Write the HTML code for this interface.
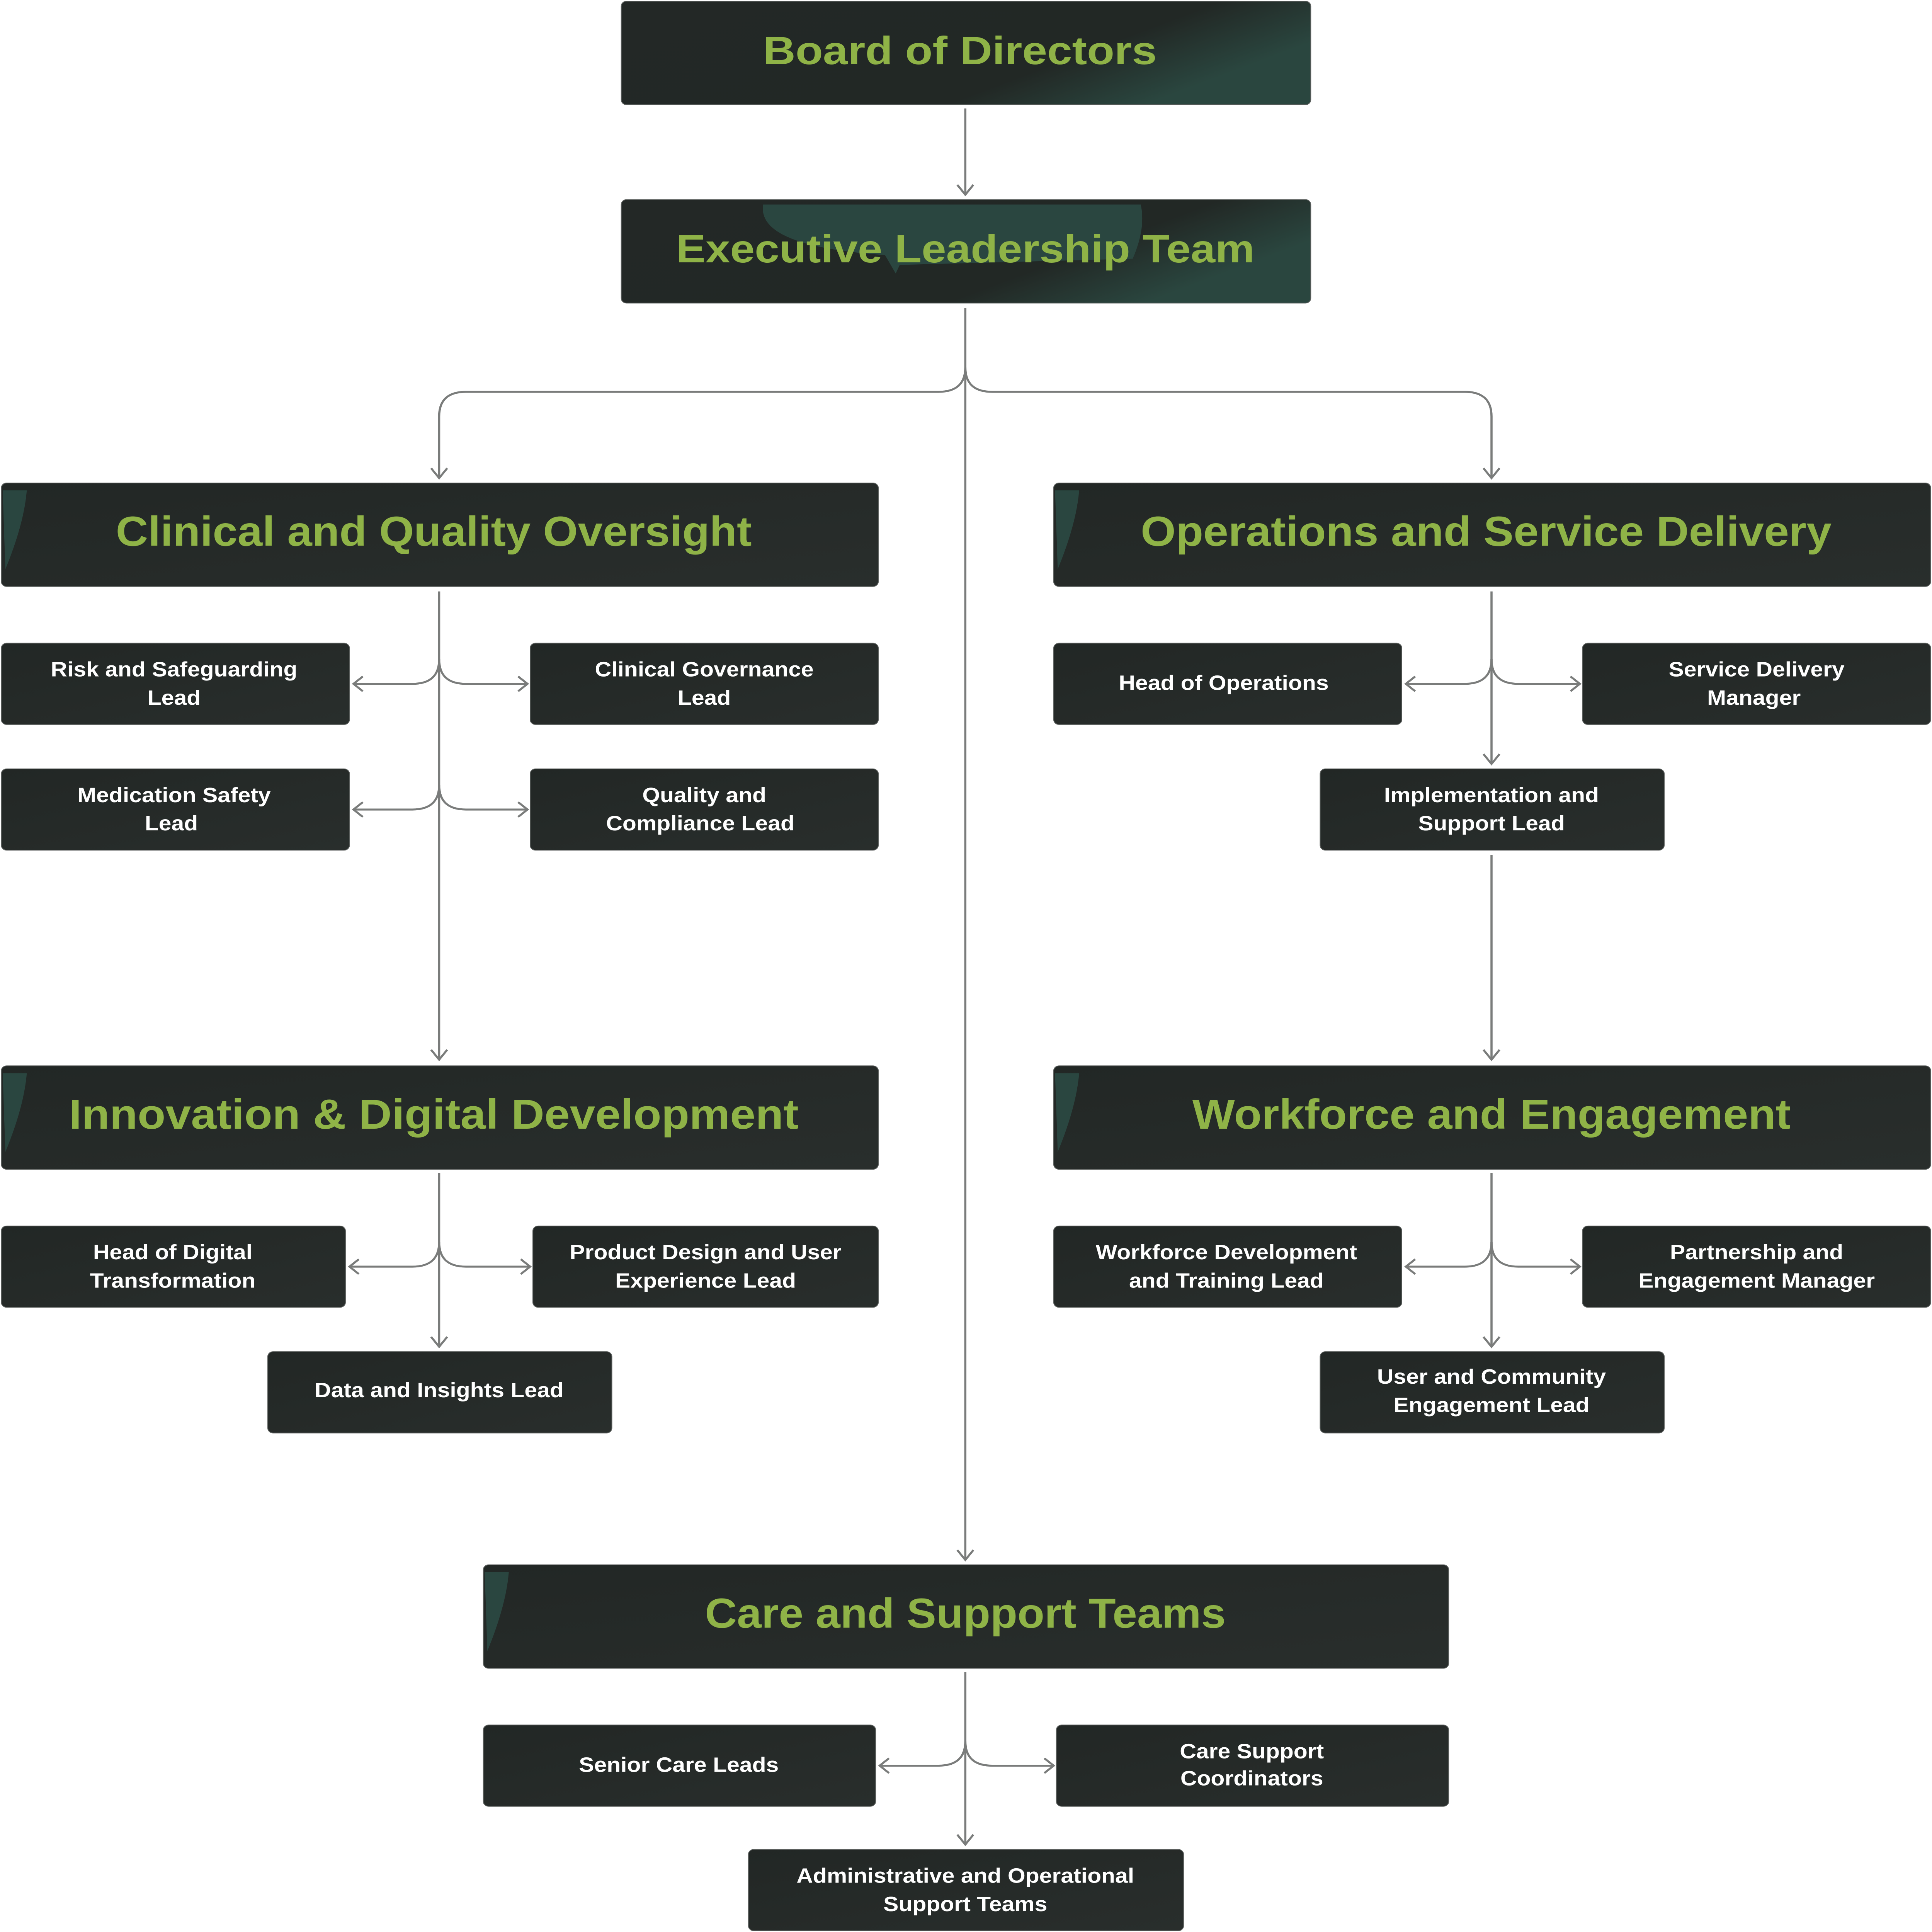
<!DOCTYPE html>
<html><head><meta charset="utf-8"><style>
html,body{margin:0;padding:0;background:#fff;width:100%;height:100%;overflow:hidden;}
svg{display:block;position:fixed;left:0;top:0;width:100vw;height:100vh;}
.h{font-family:"Liberation Sans",sans-serif;font-weight:bold;fill:#8fb347;text-anchor:middle;}
.c{font-family:"Liberation Sans",sans-serif;font-weight:bold;fill:#fff;text-anchor:middle;font-size:17px;}
.l{fill:none;stroke:#7a7c7b;stroke-width:1.6;}
</style></head><body>
<svg viewBox="0 0 1443 1568" preserveAspectRatio="none" xmlns="http://www.w3.org/2000/svg">
<defs>
<linearGradient id="g" x1="0" y1="0" x2="1" y2="0.4">
<stop offset="0" stop-color="#232826"/><stop offset="0.75" stop-color="#222825"/><stop offset="1" stop-color="#2a463f"/>
</linearGradient>
<linearGradient id="g2" x1="0" y1="0" x2="1" y2="1">
<stop offset="0" stop-color="#222725"/><stop offset="1" stop-color="#292e2c"/>
</linearGradient>
</defs>
<g class="l">
<path d="M721,88 V158"/><path d="M715,150 L721,158 L727,150"/>
<path d="M721,250 V1266"/><path d="M715,1258 L721,1266 L727,1258"/>
<path d="M721,298 Q721,318 701,318 H348 Q328,318 328,338 V388"/><path d="M322,380 L328,388 L334,380"/>
<path d="M721,298 Q721,318 741,318 H1094 Q1114,318 1114,338 V388"/><path d="M1108,380 L1114,388 L1120,380"/>
<path d="M328,480 V860"/><path d="M322,852 L328,860 L334,852"/>
<path d="M328,535 Q328,555 308,555 H265"/><path d="M271,549 L264,555 L271,561"/>
<path d="M328,535 Q328,555 348,555 H393"/><path d="M387,549 L394,555 L387,561"/>
<path d="M328,637 Q328,657 308,657 H265"/><path d="M271,651 L264,657 L271,663"/>
<path d="M328,637 Q328,657 348,657 H393"/><path d="M387,651 L394,657 L387,663"/>
<path d="M328,952 V1093"/><path d="M322,1085 L328,1093 L334,1085"/>
<path d="M328,1008 Q328,1028 308,1028 H262"/><path d="M268,1022 L261,1028 L268,1034"/>
<path d="M328,1008 Q328,1028 348,1028 H395"/><path d="M389,1022 L396,1028 L389,1034"/>
<path d="M1114,480 V620"/><path d="M1108,612 L1114,620 L1120,612"/>
<path d="M1114,535 Q1114,555 1094,555 H1051"/><path d="M1057,549 L1050,555 L1057,561"/>
<path d="M1114,535 Q1114,555 1134,555 H1179"/><path d="M1173,549 L1180,555 L1173,561"/>
<path d="M1114,694 V860"/><path d="M1108,852 L1114,860 L1120,852"/>
<path d="M1114,952 V1093"/><path d="M1108,1085 L1114,1093 L1120,1085"/>
<path d="M1114,1008 Q1114,1028 1094,1028 H1051"/><path d="M1057,1022 L1050,1028 L1057,1034"/>
<path d="M1114,1008 Q1114,1028 1134,1028 H1179"/><path d="M1173,1022 L1180,1028 L1173,1034"/>
<path d="M721,1357 V1497"/><path d="M715,1489 L721,1497 L727,1489"/>
<path d="M721,1413 Q721,1433 701,1433 H658"/><path d="M664,1427 L657,1433 L664,1439"/>
<path d="M721,1413 Q721,1433 741,1433 H786"/><path d="M780,1427 L787,1433 L780,1439"/>
</g>
<rect x="464" y="1" width="515" height="84" rx="4" fill="url(#g)" stroke="#5a5e5c" stroke-width="0.6"/>
<text class="h" x="717" y="52" font-size="32" textLength="294" lengthAdjust="spacingAndGlyphs">Board of Directors</text>
<rect x="464" y="162" width="515" height="84" rx="4" fill="url(#g)" stroke="#5a5e5c" stroke-width="0.6"/>
<path d="M570,166 H852 Q856,185 846,210 L672,215 L669,222 L661,207 Q565,200 570,166Z" fill="#2a4640"/>
<text class="h" x="721" y="213" font-size="32" textLength="432" lengthAdjust="spacingAndGlyphs">Executive Leadership Team</text>
<g>
<rect x="1" y="392" width="655" height="84" rx="4" fill="url(#g2)" stroke="#5a5e5c" stroke-width="0.6"/>
<path d="M2,398 H20 Q18,425 4,462Z" fill="#2a4640"/>
<text class="h" x="324" y="443" font-size="34" textLength="475" lengthAdjust="spacingAndGlyphs">Clinical and Quality Oversight</text>
<rect x="787" y="392" width="655" height="84" rx="4" fill="url(#g2)" stroke="#5a5e5c" stroke-width="0.6"/>
<path d="M788,398 H806 Q804,425 790,462Z" fill="#2a4640"/>
<text class="h" x="1110" y="443" font-size="34" textLength="516" lengthAdjust="spacingAndGlyphs">Operations and Service Delivery</text>
<rect x="1" y="865" width="655" height="84" rx="4" fill="url(#g2)" stroke="#5a5e5c" stroke-width="0.6"/>
<path d="M2,871 H20 Q18,898 4,935Z" fill="#2a4640"/>
<text class="h" x="324" y="916" font-size="34" textLength="545" lengthAdjust="spacingAndGlyphs">Innovation &amp; Digital Development</text>
<rect x="787" y="865" width="655" height="84" rx="4" fill="url(#g2)" stroke="#5a5e5c" stroke-width="0.6"/>
<path d="M788,871 H806 Q804,898 790,935Z" fill="#2a4640"/>
<text class="h" x="1114" y="916" font-size="34" textLength="447" lengthAdjust="spacingAndGlyphs">Workforce and Engagement</text>
<rect x="361" y="1270" width="721" height="84" rx="4" fill="url(#g2)" stroke="#5a5e5c" stroke-width="0.6"/>
<path d="M362,1276 H380 Q378,1303 364,1340Z" fill="#2a4640"/>
<text class="h" x="721" y="1321" font-size="34" textLength="389" lengthAdjust="spacingAndGlyphs">Care and Support Teams</text>
</g>
<g fill="url(#g2)" stroke="#5a5e5c" stroke-width="0.6">
<rect x="1" y="522" width="260" height="66" rx="4"/>
<rect x="396" y="522" width="260" height="66" rx="4"/>
<rect x="1" y="624" width="260" height="66" rx="4"/>
<rect x="396" y="624" width="260" height="66" rx="4"/>
<rect x="1" y="995" width="257" height="66" rx="4"/>
<rect x="398" y="995" width="258" height="66" rx="4"/>
<rect x="200" y="1097" width="257" height="66" rx="4"/>
<rect x="787" y="522" width="260" height="66" rx="4"/>
<rect x="1182" y="522" width="260" height="66" rx="4"/>
<rect x="986" y="624" width="257" height="66" rx="4"/>
<rect x="787" y="995" width="260" height="66" rx="4"/>
<rect x="1182" y="995" width="260" height="66" rx="4"/>
<rect x="986" y="1097" width="257" height="66" rx="4"/>
<rect x="361" y="1400" width="293" height="66" rx="4"/>
<rect x="789" y="1400" width="293" height="66" rx="4"/>
<rect x="559" y="1501" width="325" height="66" rx="4"/>
</g>
<g class="c">
<text x="130" y="549">Risk and Safeguarding</text><text x="130" y="572">Lead</text>
<text x="526" y="549">Clinical Governance</text><text x="526" y="572">Lead</text>
<text x="130" y="651">Medication Safety</text><text x="128" y="674">Lead</text>
<text x="526" y="651">Quality and</text><text x="523" y="674">Compliance Lead</text>
<text x="129" y="1022">Head of Digital</text><text x="129" y="1045">Transformation</text>
<text x="527" y="1022">Product Design and User</text><text x="527" y="1045">Experience Lead</text>
<text x="328" y="1134">Data and Insights Lead</text>
<text x="914" y="560">Head of Operations</text>
<text x="1312" y="549">Service Delivery</text><text x="1310" y="572">Manager</text>
<text x="1114" y="651">Implementation and</text><text x="1114" y="674">Support Lead</text>
<text x="916" y="1022">Workforce Development</text><text x="916" y="1045">and Training Lead</text>
<text x="1312" y="1022">Partnership and</text><text x="1312" y="1045">Engagement Manager</text>
<text x="1114" y="1123">User and Community</text><text x="1114" y="1146">Engagement Lead</text>
<text x="507" y="1438">Senior Care Leads</text>
<text x="935" y="1427">Care Support</text><text x="935" y="1449">Coordinators</text>
<text x="721" y="1528">Administrative and Operational</text><text x="721" y="1551">Support Teams</text>
</g>
</svg>
</body></html>
